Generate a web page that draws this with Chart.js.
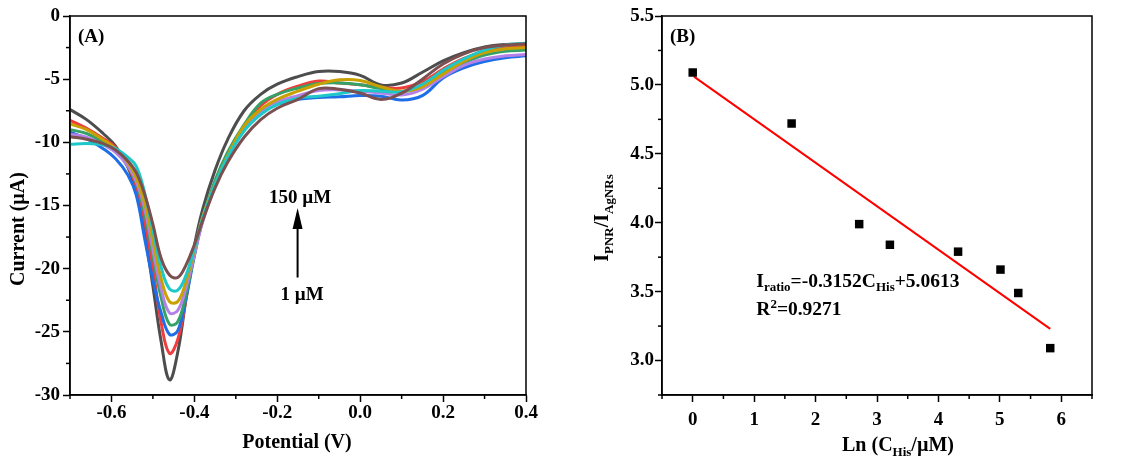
<!DOCTYPE html>
<html>
<head>
<meta charset="utf-8">
<script src="https://cdn.jsdelivr.net/npm/chart.js@4"></script>
<style>
  html, body { margin: 0; padding: 0; background: #fff; }
  #wrap { position: relative; width: 1133px; height: 468px; }
  #chartA { position: absolute; left: 0; top: 0; }
  #chartB { position: absolute; left: 566px; top: 0; }
</style>
</head>
<body>
<div id="wrap">
  <canvas id="chartA" width="566" height="468"></canvas>
  <canvas id="chartB" width="567" height="468"></canvas>
</div>
<script>
// (A) voltammograms, potential in V, current in uA
var potential = [-0.70, -0.66, -0.62, -0.59, -0.56, -0.54, -0.52, -0.50, -0.48, -0.46, -0.44, -0.42, -0.40, -0.38, -0.35, -0.32, -0.28, -0.24, -0.20, -0.15, -0.10, -0.05, 0.00, 0.05, 0.10, 0.15, 0.20, 0.25, 0.30, 0.35, 0.40];

var curveGray   = [-7.4, -8.2, -9.3, -10.3, -12.0, -14.0, -17.2, -21.4, -25.8, -28.8, -26.6, -22.3, -18.2, -15.3, -12.2, -9.8, -7.5, -6.2, -5.4, -4.8, -4.4, -4.4, -4.7, -5.45, -5.3, -4.45, -3.55, -2.9, -2.45, -2.25, -2.2];
var curveRed    = [-8.25, -8.9, -9.7, -10.4, -11.9, -13.5, -16.2, -20.0, -24.3, -26.7, -25.6, -22.4, -18.6, -16.0, -13.3, -10.9, -8.7, -7.1, -6.2, -5.55, -5.15, -5.3, -5.45, -5.65, -5.7, -5.2, -4.2, -3.35, -2.8, -2.5, -2.4];
var curveBlue   = [-9.2, -9.7, -10.5, -11.3, -12.6, -14.2, -17.6, -20.9, -23.5, -25.2, -24.9, -22.3, -19.0, -16.2, -13.4, -11.2, -9.0, -7.7, -7.0, -6.6, -6.45, -6.4, -6.3, -6.35, -6.65, -6.3, -4.9, -4.1, -3.6, -3.3, -3.15];
var curveGreen  = [-9.0, -9.3, -10.0, -10.7, -11.9, -13.2, -15.6, -19.0, -22.3, -24.4, -24.2, -22.0, -18.9, -16.0, -13.0, -10.8, -8.6, -6.9, -6.2, -5.7, -5.35, -5.3, -5.45, -5.75, -6.0, -5.5, -4.5, -3.7, -3.1, -2.8, -2.7];
var curvePurple = [-9.35, -9.6, -10.2, -10.8, -11.9, -13.1, -15.2, -18.5, -21.6, -23.5, -23.3, -21.5, -18.9, -16.3, -13.4, -11.2, -9.0, -7.6, -6.8, -6.3, -5.9, -5.85, -5.95, -6.1, -6.25, -5.8, -4.8, -3.9, -3.4, -3.15, -3.05];
var curveGold   = [-8.55, -9.0, -9.8, -10.5, -11.6, -12.8, -14.8, -17.8, -20.8, -22.6, -22.6, -21.0, -18.5, -15.9, -13.3, -11.1, -8.7, -7.4, -6.6, -5.95, -5.4, -5.05, -5.1, -5.6, -5.95, -5.6, -4.6, -3.6, -2.9, -2.6, -2.5];
var curveCyan   = [-10.15, -10.1, -10.2, -10.5, -11.2, -11.9, -14.0, -17.0, -19.9, -21.6, -21.7, -20.5, -18.4, -16.0, -13.3, -11.2, -9.1, -7.8, -7.0, -6.5, -6.35, -6.15, -5.9, -5.95, -6.0, -5.4, -4.3, -3.4, -2.7, -2.3, -2.15];
var curveBrown  = [-9.55, -9.75, -10.1, -10.6, -11.5, -12.4, -14.1, -16.5, -19.2, -20.5, -20.7, -19.7, -18.1, -16.2, -13.6, -11.6, -9.6, -8.2, -7.3, -6.6, -5.75, -5.8, -6.1, -6.6, -6.1, -5.0, -3.8, -3.0, -2.5, -2.3, -2.2];

// (B) calibration
var lnConc = [0, 1.61, 2.71, 3.21, 4.32, 5.01, 5.30, 5.82];
var ratio  = [5.09, 4.72, 3.99, 3.84, 3.79, 3.66, 3.49, 3.09];
var fitX = [0.02, 5.82];
var fitY = [5.06, 3.23];

var SERIF = '"Liberation Serif", "Times New Roman", serif';

function pts(xs, ys) {
    return xs.map(function (x, i) { return { x: x, y: ys[i] }; });
}

// draws text with sub/superscripts, parts = [[text, 0 normal | 1 sub | 2 sup], ...]
function drawRich(ctx, parts, x, y, size, align) {
    var big = 'bold ' + size + 'px ' + SERIF;
    var small = 'bold ' + Math.round(size * 0.66) + 'px ' + SERIF;
    var w = 0;
    parts.forEach(function (p) { ctx.font = p[1] ? small : big; w += ctx.measureText(p[0]).width; });
    var cx = align === 'center' ? x - w / 2 : x;
    ctx.textAlign = 'left';
    ctx.textBaseline = 'alphabetic';
    parts.forEach(function (p) {
        ctx.font = p[1] ? small : big;
        var dy = p[1] === 1 ? size * 0.25 : (p[1] === 2 ? -size * 0.38 : 0);
        ctx.fillText(p[0], cx, y + dy);
        cx += ctx.measureText(p[0]).width;
    });
}

function minorTicks(ctx, scale, len) {
    var t = scale.ticks.map(function (k) { return k.value; });
    if (t.length < 2) return;
    var step = t[1] - t[0];
    var vals = [];
    var v = t[0] - step / 2;
    while (v >= scale.min - 1e-9) { vals.push(v); v -= step; }
    for (var i = 0; i < t.length; i++) vals.push(t[i] + step / 2);
    vals.forEach(function (m) {
        if (m < scale.min - 1e-9 || m > scale.max + 1e-9) return;
        var p = scale.getPixelForValue(m);
        ctx.beginPath();
        if (scale.isHorizontal()) { ctx.moveTo(p, scale.top); ctx.lineTo(p, scale.top + len); }
        else { ctx.moveTo(scale.right, p); ctx.lineTo(scale.right - len, p); }
        ctx.stroke();
    });
}

var extras = {
    id: 'extras',
    afterDraw: function (chart, args, opts) {
        var ctx = chart.ctx, a = chart.chartArea;
        var xs = chart.scales.x, ys = chart.scales.y;
        ctx.save();
        ctx.strokeStyle = '#000';
        ctx.lineWidth = 1.5;
        ctx.strokeRect(a.left, a.top, a.right - a.left, a.bottom - a.top);
        minorTicks(ctx, xs, 4);
        minorTicks(ctx, ys, 4);
        ctx.fillStyle = '#000';
        drawRich(ctx, [[opts.tag, 0]], a.left + 8, a.top + 26, 19, 'left');
        drawRich(ctx, opts.xTitle, opts.xTitlePos[0], opts.xTitlePos[1], 20, 'center');
        ctx.save();
        ctx.translate(opts.yTitlePos[0], opts.yTitlePos[1]);
        ctx.rotate(-Math.PI / 2);
        drawRich(ctx, opts.yTitle, 0, 0, 20, 'center');
        ctx.restore();
        if (opts.arrow) {
            var ar = opts.arrow;
            var px = xs.getPixelForValue(ar.v);
            var y0 = ys.getPixelForValue(ar.from), y1 = ys.getPixelForValue(ar.to);
            ctx.lineWidth = 2;
            ctx.beginPath(); ctx.moveTo(px, y0); ctx.lineTo(px, y1 + 18); ctx.stroke();
            ctx.beginPath(); ctx.moveTo(px, y1); ctx.lineTo(px - 5, y1 + 21); ctx.lineTo(px + 5, y1 + 21); ctx.closePath(); ctx.fill();
        }
        (opts.notes || []).forEach(function (n) {
            drawRich(ctx, n.parts, xs.getPixelForValue(n.x), ys.getPixelForValue(n.y), n.size || 19, n.align);
        });
        ctx.restore();
    }
};

function axis(min, max, step, fmt, pad, fit, horizontal) {
    return {
        type: 'linear', min: min, max: max,
        grid: { drawOnChartArea: false, drawTicks: true, tickLength: 7, tickWidth: 1.5, tickColor: '#000' },
        border: { display: true, color: '#000', width: 1.5 },
        ticks: {
            autoSkip: false, maxRotation: 0,
            color: '#000', padding: pad,
            font: { family: SERIF, size: 19, weight: 'bold', lineHeight: 1 },
            callback: fmt
        },
        // major ticks on multiples of step only
        afterBuildTicks: function (s) {
            var out = [];
            for (var v = Math.ceil(s.min / step - 1e-9) * step; v <= s.max + 1e-9; v += step) {
                out.push({ value: Math.round(v * 1000) / 1000 });
            }
            s.ticks = out;
        },
        afterFit: function (s) { if (horizontal) s.height = fit; else s.width = fit; }
    };
}

var curves = [
    [curveBrown, '#7b5050'], [curveCyan, '#1ec8c8'], [curveGold, '#c8a000'], [curvePurple, '#b482e6'],
    [curveGreen, '#36a167'], [curveBlue, '#1e6ee8'], [curveRed, '#f03c3c'], [curveGray, '#4d4d4d']
];

new Chart(document.getElementById('chartA'), {
    type: 'line',
    data: {
        datasets: curves.map(function (c) {
            return {
                data: pts(potential, c[0]), borderColor: c[1], borderWidth: 3,
                pointRadius: 0, tension: 0.4, fill: false
            };
        })
    },
    options: {
        responsive: false, animation: false, devicePixelRatio: 1,
        layout: { padding: { left: 0, right: 40, top: 16, bottom: 0 } },
        plugins: {
            legend: { display: false }, tooltip: { enabled: false },
            extras: {
                tag: '(A)',
                xTitle: [['Potential (V)', 0]], xTitlePos: [297, 448],
                yTitle: [['Current (\u00b5A)', 0]], yTitlePos: [24, 229],
                arrow: { v: -0.151, from: -20.7, to: -15.2 },
                notes: [
                    { parts: [['150 \u00b5M', 0]], x: -0.145, y: -14.8, align: 'center' },
                    { parts: [['1 \u00b5M', 0]], x: -0.14, y: -22.5, align: 'center' }
                ]
            }
        },
        scales: {
            x: axis(-0.7, 0.4, 0.2, function (v) { return v.toFixed(1); }, 2, 73, true),
            y: axis(-30, 0, 5, function (v) { return String(v); }, 3, 70, false)
        }
    },
    plugins: [extras]
});

new Chart(document.getElementById('chartB'), {
    type: 'scatter',
    data: {
        datasets: [
            {
                data: pts(lnConc, ratio), pointStyle: 'rect', pointRadius: 6,
                backgroundColor: '#000', borderWidth: 0
            },
            {
                data: pts(fitX, fitY), showLine: true, borderColor: '#ff0000', borderWidth: 2,
                pointRadius: 0, fill: false
            }
        ]
    },
    options: {
        responsive: false, animation: false, devicePixelRatio: 1,
        layout: { padding: { left: 0, right: 41, top: 16, bottom: 0 } },
        plugins: {
            legend: { display: false }, tooltip: { enabled: false },
            extras: {
                tag: '(B)',
                xTitle: [['Ln (C', 0], ['His', 1], ['/\u00b5M)', 0]], xTitlePos: [332, 451],
                yTitle: [['I', 0], ['PNR', 1], ['/I', 0], ['AgNRs', 1]], yTitlePos: [42, 218],
                notes: [
                    { parts: [['I', 0], ['ratio', 1], ['=-0.3152C', 0], ['His', 1], ['+5.0613', 0]], x: 1.035, y: 3.537, align: 'left', size: 19.5 },
                    { parts: [['R', 0], ['2', 2], ['=0.9271', 0]], x: 1.035, y: 3.33, align: 'left', size: 19.5 }
                ]
            }
        },
        scales: {
            x: axis(-0.5, 6.5, 1, function (v) { return String(v); }, 9, 73, true),
            y: axis(2.75, 5.5, 0.5, function (v) { return v.toFixed(1); }, 1, 96, false)
        }
    },
    plugins: [extras]
});
</script>
</body>
</html>
